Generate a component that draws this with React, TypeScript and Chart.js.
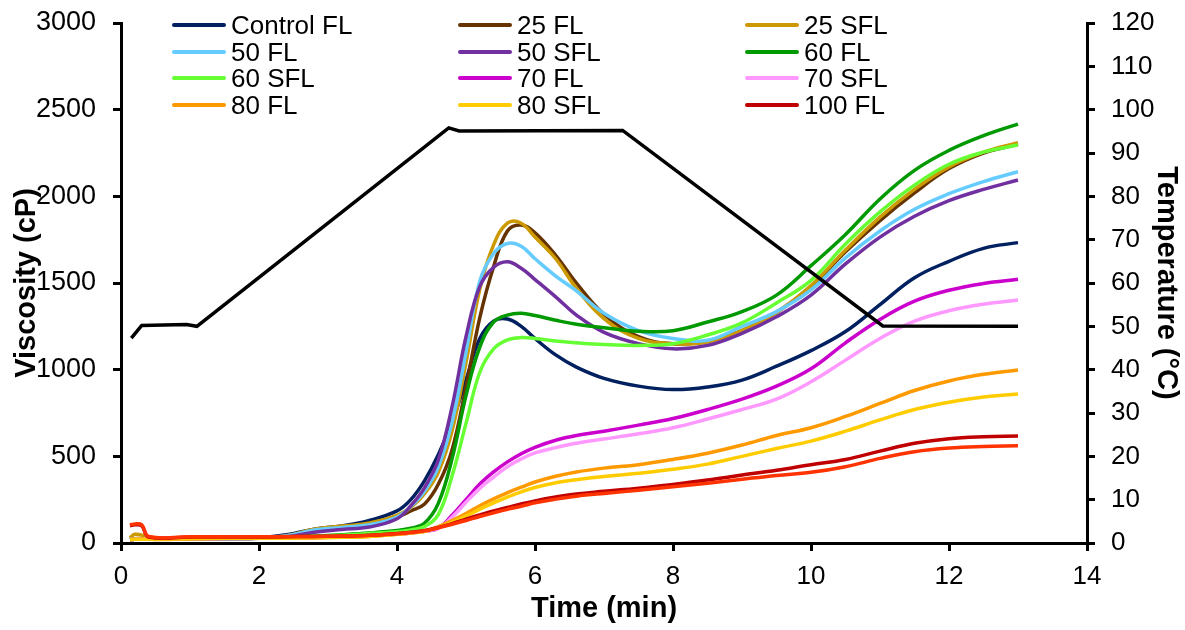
import React, { useEffect, useRef } from "react";
import { Chart, registerables } from "chart.js";

Chart.register(...registerables);

// ---- Data ----
const time = [0.13, 0.2, 0.3, 0.4, 1.0, 2.0, 2.4, 2.8, 3.2, 3.6, 4.0, 4.2, 4.4, 4.6, 4.8, 5.0, 5.2, 5.4, 5.6, 5.8, 6.0, 6.3, 6.6, 7.0, 7.5, 8.0, 8.5, 9.0, 9.5, 10.0, 10.5, 11.0, 11.5, 12.0, 12.5, 13.0];

const controlFL = [20, 22, 22, 24, 27, 30, 48, 80, 98, 130, 185, 250, 360, 510, 700, 940, 1180, 1280, 1292, 1250, 1180, 1085, 1015, 950, 905, 885, 900, 940, 1020, 1110, 1220, 1375, 1530, 1625, 1700, 1733];
const fl25 = [20, 25, 25, 22, 25, 28, 40, 75, 92, 110, 150, 185, 225, 340, 540, 900, 1300, 1594, 1800, 1835, 1790, 1660, 1500, 1320, 1190, 1150, 1165, 1225, 1330, 1480, 1680, 1860, 2020, 2160, 2250, 2300];
const sfl25 = [30, 50, 45, 22, 25, 30, 42, 80, 98, 115, 160, 205, 285, 410, 650, 1040, 1465, 1720, 1845, 1845, 1765, 1640, 1470, 1295, 1180, 1150, 1160, 1225, 1330, 1485, 1690, 1880, 2040, 2170, 2255, 2310];
const fl50 = [22, 24, 24, 24, 27, 30, 42, 75, 90, 105, 150, 210, 300, 440, 700, 1100, 1510, 1670, 1728, 1712, 1640, 1540, 1455, 1325, 1225, 1180, 1170, 1250, 1335, 1460, 1645, 1800, 1925, 2015, 2085, 2142];
const sfl50 = [20, 22, 22, 22, 25, 28, 35, 62, 78, 92, 140, 215, 320, 480, 790, 1190, 1480, 1590, 1622, 1585, 1520, 1420, 1315, 1215, 1150, 1120, 1140, 1210, 1305, 1430, 1610, 1765, 1885, 1975, 2040, 2094];
const fl60 = [20, 22, 22, 22, 25, 27, 30, 40, 48, 58, 72, 85, 115, 230, 490, 850, 1130, 1275, 1315, 1325, 1312, 1285, 1262, 1242, 1222, 1225, 1275, 1335, 1430, 1600, 1780, 1985, 2150, 2265, 2350, 2417];
const sfl60 = [20, 22, 22, 22, 25, 27, 30, 38, 45, 55, 65, 75, 95, 165, 390, 690, 985, 1120, 1172, 1185, 1180, 1165, 1155, 1145, 1140, 1150, 1200, 1270, 1385, 1515, 1725, 1910, 2065, 2185, 2255, 2296];
const fl70 = [20, 22, 22, 22, 25, 27, 28, 32, 36, 42, 52, 58, 68, 85, 160, 250, 340, 410, 468, 515, 552, 593, 620, 645, 680, 718, 770, 830, 905, 1005, 1155, 1290, 1395, 1458, 1497, 1521];
const sfl70 = [20, 22, 22, 22, 25, 27, 28, 32, 36, 42, 52, 58, 68, 85, 150, 235, 315, 380, 440, 485, 520, 550, 575, 600, 630, 665, 715, 770, 830, 930, 1055, 1180, 1280, 1340, 1378, 1402];
const fl80 = [20, 22, 22, 22, 25, 28, 28, 30, 33, 38, 50, 58, 68, 95, 130, 170, 215, 255, 290, 322, 352, 385, 410, 432, 452, 482, 518, 565, 620, 665, 730, 805, 880, 935, 973, 998];
const sfl80 = [20, 22, 22, 22, 25, 28, 28, 30, 33, 38, 50, 58, 68, 90, 120, 155, 195, 232, 265, 295, 320, 348, 365, 383, 402, 425, 455, 500, 545, 588, 645, 710, 770, 812, 842, 860];
const fl100 = [100, 105, 100, 35, 35, 35, 36, 38, 40, 45, 55, 62, 72, 90, 112, 138, 162, 185, 205, 225, 243, 265, 283, 298, 316, 338, 363, 392, 420, 452, 482, 530, 575, 602, 613, 617];
const sfl100 = [105, 110, 105, 38, 36, 36, 37, 38, 40, 44, 54, 60, 70, 88, 108, 130, 153, 174, 194, 212, 232, 253, 270, 286, 304, 324, 345, 368, 390, 408, 440, 488, 527, 548, 557, 561];

const seriesNames = ["Control FL", "25 FL", "25 SFL", "50 FL", "50 SFL", "60 FL", "60 SFL", "70 FL", "70 SFL", "80 FL", "80 SFL", "100 FL", "100 SFL"];
const seriesValues = [controlFL, fl25, sfl25, fl50, sfl50, fl60, sfl60, fl70, sfl70, fl80, sfl80, fl100, sfl100];
const seriesColors = ["#002060", "#663300", "#CC9900", "#66CCFF", "#7030A0", "#009900", "#66FF33", "#CC00CC", "#FF99FF", "#FF9900", "#FFCC00", "#C00000", "#FF3300"];
const legendShown = 12; // the 13th series is not in the legend

const tempTime = [0.15, 0.3, 0.95, 1.1, 4.75, 4.9, 7.27, 11.04, 13.0];
const tempValues = [47.3, 50.2, 50.4, 50.0, 95.8, 95.1, 95.2, 50.1, 50.0];

const xMin = 0, xMax = 14, xStep = 2;
const vMin = 0, vMax = 3000, vStep = 500;
const tMin = 0, tMax = 120, tStep = 10;

const FONT = "'Liberation Sans', Arial, sans-serif";

export default function App() {
  const canvasRef = useRef<HTMLCanvasElement | null>(null);

  useEffect(() => {
    document.body.style.margin = "0";
    const canvas = canvasRef.current;
    if (!canvas) return;

    const n = seriesValues.length;
    const datasets: any[] = seriesValues.map((vals, i) => ({
      label: seriesNames[i],
      data: time.map((t, k) => ({ x: t, y: vals[k] })),
      borderColor: seriesColors[i],
      backgroundColor: seriesColors[i],
      borderWidth: 3.5,
      pointRadius: 0,
      tension: 0.4,
      fill: false,
      yAxisID: "y",
      order: n - i + 1,
    }));
    datasets.push({
      label: "Temperature",
      data: tempTime.map((t, k) => ({ x: t, y: tempValues[k] })),
      borderColor: "#000000",
      backgroundColor: "#000000",
      borderWidth: 3.5,
      pointRadius: 0,
      tension: 0,
      fill: false,
      yAxisID: "y1",
      order: 0,
    });

    const tickFont = { family: FONT, size: 26 };
    const leftTickFont = { family: FONT, size: 27 };
    const titleFont = { family: FONT, size: 29, weight: "bold" as const };
    const gridCommon = {
      drawOnChartArea: false,
      drawTicks: true,
      tickLength: 8,
      color: "#000",
      lineWidth: 3,
    };
    const border = { color: "#000", width: 3 };
    const plain = (v: any) => `${v}`;

    const chart = new Chart(canvas, {
      type: "line",
      data: { datasets },
      options: {
        animation: false,
        responsive: false,
        maintainAspectRatio: false,
        layout: { padding: { top: 23, left: 0, right: 0, bottom: 0 } },
        plugins: {
          legend: { display: false },
          tooltip: { enabled: false },
        },
        scales: {
          x: {
            type: "linear",
            min: xMin,
            max: xMax,
            ticks: { stepSize: xStep, font: tickFont, color: "#000", padding: 10, callback: plain },
            grid: gridCommon,
            border,
            title: {
              display: true,
              text: "Time (min)",
              font: titleFont,
              color: "#000",
              padding: { top: 0, bottom: 4 },
            },
            afterFit: (s: any) => {
              s.height = 87;
              s.paddingLeft = 0;
              s.paddingRight = 0;
            },
          },
          y: {
            type: "linear",
            position: "left",
            min: vMin,
            max: vMax,
            ticks: { stepSize: vStep, font: leftTickFont, color: "#000", padding: 17, callback: plain },
            grid: gridCommon,
            border,
            title: {
              display: true,
              text: "Viscosity (cP)",
              font: titleFont,
              color: "#000",
              padding: { top: 10, bottom: 0 },
            },
            afterFit: (s: any) => {
              s.width = 121;
              s.paddingTop = 0;
              s.paddingBottom = 0;
            },
          },
          y1: {
            type: "linear",
            position: "right",
            min: tMin,
            max: tMax,
            ticks: { stepSize: tStep, font: tickFont, color: "#000", padding: 16, callback: plain },
            grid: gridCommon,
            border,
            title: {
              display: true,
              text: "Temperature (°C)",
              font: titleFont,
              color: "#000",
              padding: { top: 2, bottom: 0 },
            },
            afterFit: (s: any) => {
              s.width = 98;
              s.paddingTop = 0;
              s.paddingBottom = 0;
            },
          },
        },
      },
    });

    return () => {
      chart.destroy();
    };
  }, []);

  const colX = [172, 458, 745];
  const rowY = [25, 51.7, 78.3, 105];

  return (
    <div style={{ position: "relative", width: 1185, height: 630, background: "#fff" }}>
      <canvas ref={canvasRef} width={1185} height={630} style={{ display: "block", width: 1185, height: 630 }} />
      {seriesNames.slice(0, legendShown).map((name, i) => {
        const col = i % 3;
        const row = Math.floor(i / 3);
        return (
          <div
            key={name}
            style={{
              position: "absolute",
              left: colX[col],
              top: rowY[row] - 15,
              height: 30,
              display: "flex",
              alignItems: "center",
              fontFamily: FONT,
              fontSize: 26,
              lineHeight: "30px",
              color: "#000",
              whiteSpace: "nowrap",
            }}
          >
            <span
              style={{
                display: "inline-block",
                width: 54,
                height: 4,
                borderRadius: 2,
                background: seriesColors[i],
              }}
            />
            <span style={{ marginLeft: 5 }}>{name}</span>
          </div>
        );
      })}
    </div>
  );
}
